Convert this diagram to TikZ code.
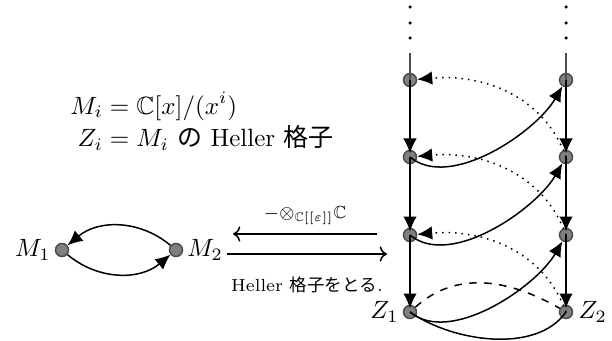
\documentclass[tikz,border=0pt]{standalone}
\usepackage{amsmath, amssymb}
\usepackage{fontspec}
\newfontfamily\cjk{Noto Sans CJK JP}
\usetikzlibrary{arrows.meta}

\begin{document}
\begin{tikzpicture}[x=0.4pt, y=0.4pt, semithick,
    vert/.style={circle, draw=black!70, fill=black!50, minimum size=5.2pt, inner sep=0pt},
    tip/.style={-{Latex[length=6pt, width=5.4pt]}},
    down/.style={tip, shorten >=-1.5pt},
    functor/.style={-{Computer Modern Rightarrow}}]
  \useasboundingbox (0,0) rectangle (612,340);

  % Definitions
  \node (defs) at (202,216)
    {$\begin{aligned}
      M_i &= \mathbb{C}[x]/(x^i)\\[-3pt]
      Z_i &= M_i \text{ {\cjk の} Heller {\cjk 格子}}
    \end{aligned}$};

  % Quiver with two vertices
  \node[vert, label={[label distance=-2pt]left:$M_1$}] (m1) at (62,90) {};
  \node[vert, label={[label distance=-2pt]right:$M_2$}] (m2) at (176,90) {};
  \draw[tip] (m2) to[out=140, in=40] (m1);
  \draw[tip] (m1) to[out=-40, in=-140] (m2);

  % Functors
  \coordinate (fa) at (377,106);
  \coordinate (fb) at (233,106);
  \coordinate (ga) at (227,86);
  \coordinate (gb) at (387,86);
  \draw[functor] (fa) -- node[above, font=\scriptsize]
    {$-{\otimes_{\mathbb{C}[[\varepsilon]]}}\mathbb{C}$} (fb);
  \draw[functor] (ga) -- node[below, yshift=-5.5pt, font=\scriptsize]
    {Heller {\cjk 格子をとる}.} (gb);

  % Heller lattices
  \foreach \i/\y in {1/260, 2/183, 3/105} {
    \node[vert] (l\i) at (410,\y) {};
    \node[vert] (r\i) at (566,\y) {};
  }
  \node[vert, label={[label distance=-2pt]left:$Z_1$}] (l4) at (410,28) {};
  \node[vert, label={[label distance=-1.5pt]right:$Z_2$}] (r4) at (566,28) {};

  \foreach \y in {333, 317, 302} {
    \fill (410,\y) circle (0.7pt);
    \fill (566,\y) circle (0.7pt);
  }
  \coordinate (ltop) at (410,287);
  \coordinate (rtop) at (566,287);
  \draw[black!70] (ltop) -- (l1.center);
  \draw[black!70] (rtop) -- (r1.center);

  \foreach \a/\b in {1/2, 2/3, 3/4} {
    \draw[down] (l\a.center) -- (l\b);
    \draw[down] (r\a.center) -- (r\b);
    \draw[tip] (l\b.center) to[out=-40, in=-120, looseness=0.8] (r\a);
    \draw[tip, dotted] (r\b.center) to[out=110, in=5] (l\a);
  }
  \draw[dashed] (l4) to[out=42, in=150] (r4);
  \draw (l4.center) to[out=-35, in=-125, looseness=0.85] (r4.center);
\end{tikzpicture}
\end{document}
